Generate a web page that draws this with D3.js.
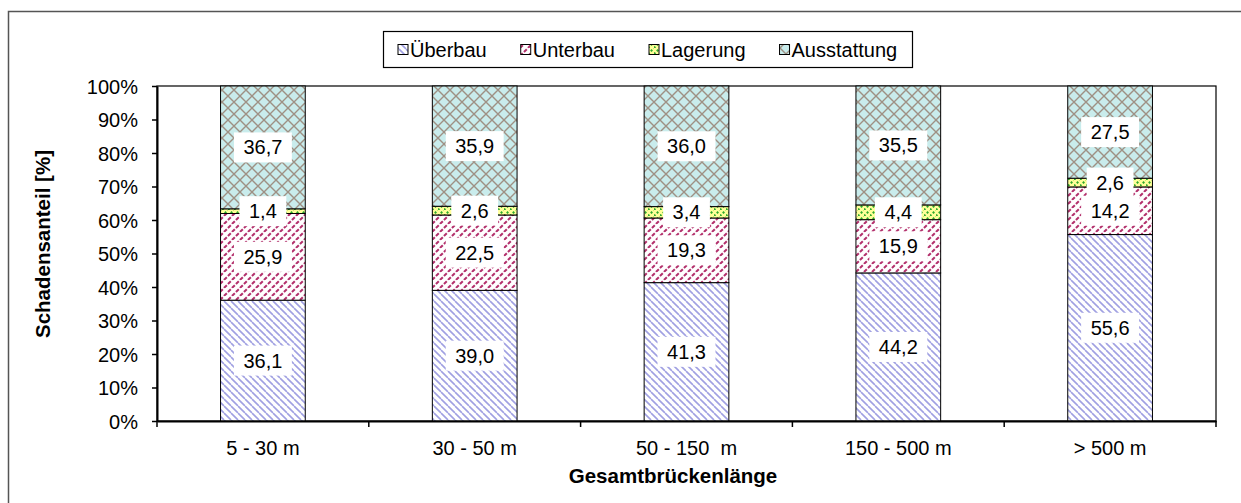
<!DOCTYPE html>
<html><head><meta charset="utf-8">
<script src="https://cdn.jsdelivr.net/npm/d3@7/dist/d3.min.js"></script>
<style>
html,body{margin:0;padding:0;background:#fff;}
text{font-family:"Liberation Sans",Arial,sans-serif;}
</style></head>
<body><svg id="chart" width="1241" height="503"></svg>
<script>
const categories = ["5 - 30 m", "30 - 50 m", "50 - 150  m", "150 - 500 m", "> 500 m"];
const seriesNames = ["Überbau", "Unterbau", "Lagerung", "Ausstattung"];
const ueberbau = [36.1, 39.0, 41.3, 44.2, 55.6];
const unterbau = [25.9, 22.5, 19.3, 15.9, 14.2];
const lagerung = [1.4, 2.6, 3.4, 4.4, 2.6];
const ausstattung = [36.7, 35.9, 36.0, 35.5, 27.5];
const yTicks = [0, 10, 20, 30, 40, 50, 60, 70, 80, 90, 100];
const yTitle = "Schadensanteil [%]";
const xTitle = "Gesamtbrückenlänge";

const seriesValues = [ueberbau, unterbau, lagerung, ausstattung];
const rows = categories.map((c, i) => {
  const r = {cat: c};
  seriesNames.forEach((s, j) => r[s] = seriesValues[j][i]);
  return r;
});

const svg = d3.select("#chart");
const L = 157, R = 1216, T = 86, B = 421;

// patterns
const defs = svg.append("defs");
function pat(id, size, bg) {
  const p = defs.append("pattern").attr("id", id).attr("patternUnits", "userSpaceOnUse")
    .attr("width", size).attr("height", size);
  p.append("rect").attr("width", size).attr("height", size).attr("fill", bg);
  return p;
}
// Überbau: "\" stripes lavender
{
  const s = 7, p = pat("p0", s, "#ffffff");
  p.append("path").attr("d", `M0,0L${s},${s}M${-s},0L0,${s}M${s},0L${2*s},${s}`)
    .attr("stroke", "#a0a0e2").attr("stroke-width", 1.6);
}
// Unterbau: "/" stripes crimson
{
  const s = 8, p = pat("p1", s, "#ffffff");
  p.append("path").attr("d", `M0,${s}L${s},0M${-s},${s}L0,0M${s},${s}L${2*s},0`)
    .attr("stroke", "#b3306c").attr("stroke-width", 2).attr("stroke-dasharray", "4,1.6");
}
// Lagerung: yellow with green dots
{
  const s = 6, p = pat("p2", s, "#ffff99");
  p.append("path").attr("d", `M0,${s}L${s},0`).attr("stroke", "#2eaa2e").attr("stroke-width", 2)
    .attr("stroke-dasharray", "2,2");
}
// Ausstattung: cyan with diamond lattice
{
  const s = 12, p = pat("p3", s, "#c9ecec");
  p.append("path").attr("d", `M0,0L${s},${s}M${s},0L0,${s}`)
    .attr("stroke", "#9e9084").attr("stroke-width", 1.4);
}
const fills = ["url(#p0)", "url(#p1)", "url(#p2)", "url(#p3)"];

// outer frame
svg.append("rect").attr("x", 8.5).attr("y", 11.5).attr("width", 1400).attr("height", 700)
  .attr("fill", "none").attr("stroke", "#555").attr("stroke-width", 1.5);

const x = d3.scaleBand().domain(categories).range([L, R]).paddingInner(0.6).paddingOuter(0.3);
const y = d3.scaleLinear().domain([0, 100]).range([B, T]);

// plot area border
svg.append("rect").attr("x", L).attr("y", T).attr("width", R - L).attr("height", B - T)
  .attr("fill", "none").attr("stroke", "#000").attr("stroke-width", 1.2);

const stack = d3.stack().keys(seriesNames).offset(d3.stackOffsetExpand);
const stacked = stack(rows);

const g = svg.append("g");
stacked.forEach((ser, j) => {
  g.append("g").selectAll("rect").data(ser).join("rect")
    .attr("x", d => x(d.data.cat))
    .attr("width", x.bandwidth())
    .attr("y", d => y(d[1] * 100))
    .attr("height", d => y(d[0] * 100) - y(d[1] * 100))
    .attr("fill", fills[j])
    .attr("stroke", "#000").attr("stroke-width", 1);
});

// axes
const ya = svg.append("g").attr("transform", `translate(${L},0)`)
  .call(d3.axisLeft(y).tickValues(yTicks).tickFormat(d => d + "%").tickSize(5).tickSizeOuter(0).tickPadding(14));
ya.selectAll("text").attr("font-size", 20).attr("font-family", "Liberation Sans, Arial").attr("fill", "#000").attr("dy", "0.36em");
ya.selectAll("line").attr("stroke", "#000").attr("stroke-width", 1.5);
ya.select(".domain").attr("stroke", "#000").attr("stroke-width", 2);

const xa = svg.append("g").attr("transform", `translate(0,${B})`)
  .call(d3.axisBottom(x).tickSize(0).tickSizeOuter(0).tickPadding(22));
xa.selectAll("text").attr("font-size", 20).attr("font-family", "Liberation Sans, Arial").attr("fill", "#000")
  .style("white-space", "pre").attr("y", 34).attr("dy", 0);
xa.select(".domain").attr("stroke", "#000").attr("stroke-width", 2);
// boundary ticks
const bounds = d3.range(categories.length + 1).map(i => L + i * x.step());
svg.append("g").selectAll("line").data(bounds).join("line")
  .attr("x1", d => d).attr("x2", d => d).attr("y1", B).attr("y2", B + 6)
  .attr("stroke", "#000").attr("stroke-width", 1.5);

// data labels
const lg = svg.append("g");
stacked.forEach((ser, j) => {
  ser.forEach((d, i) => {
    const v = seriesValues[j][i];
    const cx = x(d.data.cat) + x.bandwidth() / 2;
    const cy = y((d[0] + d[1]) / 2 * 100);
    const gg = lg.append("g");
    const t = gg.append("text").attr("x", cx).attr("y", cy + 7).attr("text-anchor", "middle")
      .attr("font-size", 20).attr("fill", "#000").text(d3.format(".1f")(v).replace(".", ","));
    const w = t.node().getComputedTextLength() + 19;
    gg.insert("rect", "text").attr("x", cx - w / 2).attr("y", cy - 15).attr("width", w).attr("height", 30)
      .attr("fill", "#fff");
  });
});

// titles
svg.append("text").attr("transform", `translate(50,244) rotate(-90)`).attr("text-anchor", "middle")
  .attr("font-size", 20.5).attr("font-weight", "bold").text(yTitle);
svg.append("text").attr("x", 673).attr("y", 483).attr("text-anchor", "middle")
  .attr("font-size", 20.5).attr("font-weight", "bold").text(xTitle);

// legend
const leg = svg.append("g");
leg.append("rect").attr("x", 383.5).attr("y", 31.5).attr("width", 529).attr("height", 36)
  .attr("fill", "#fff").attr("stroke", "#000").attr("stroke-width", 1.2);
let lx = 398;
seriesNames.forEach((s, j) => {
  leg.append("rect").attr("x", lx).attr("y", 44.5).attr("width", 10).attr("height", 10)
    .attr("fill", fills[j]).attr("stroke", "#000").attr("stroke-width", 1);
  const t = leg.append("text").attr("x", lx + 12).attr("y", 57).attr("font-size", 20).text(s);
  lx += 12 + t.node().getComputedTextLength() + 34;
});
</script></body></html>
